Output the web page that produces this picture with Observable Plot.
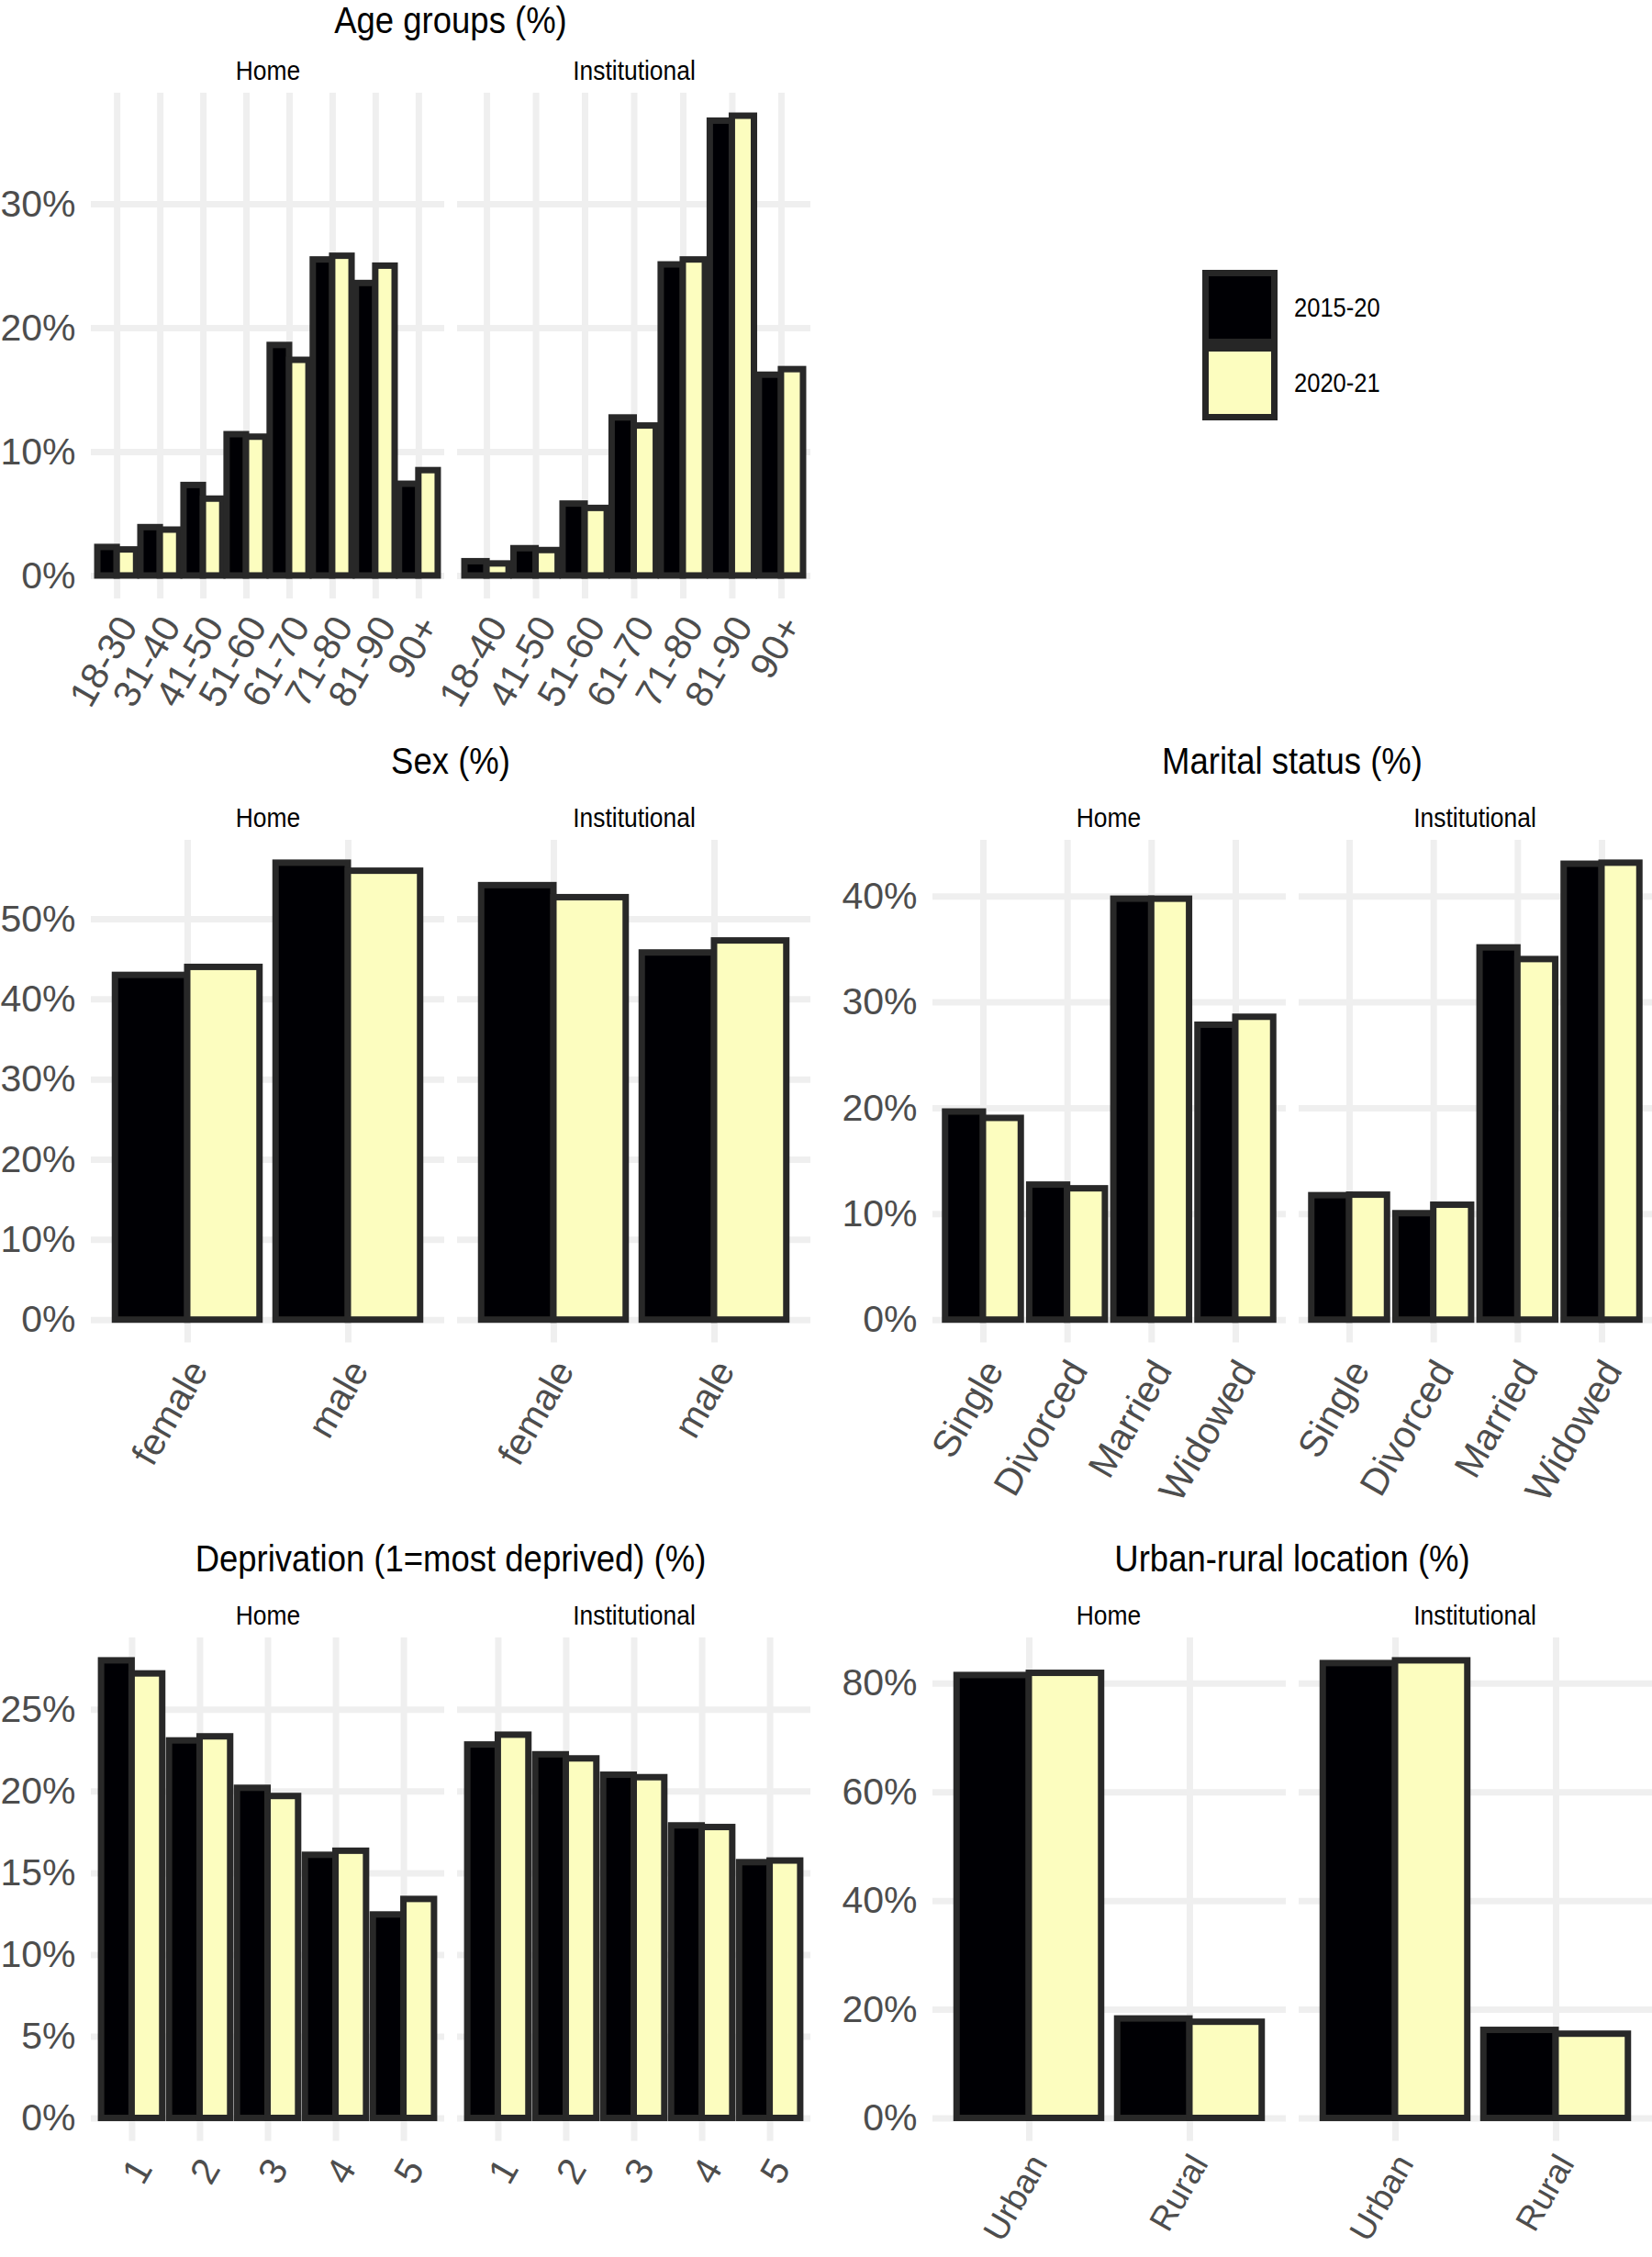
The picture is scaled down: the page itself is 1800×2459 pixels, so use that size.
<!DOCTYPE html>
<html><head><meta charset="utf-8">
<script src="https://cdn.jsdelivr.net/npm/d3@7"></script>
<script src="https://cdn.jsdelivr.net/npm/@observablehq/plot@0.6"></script>
<style>
html,body{margin:0;padding:0;background:#fff;overflow:hidden;}
#root{position:relative;width:1800px;height:2459px;overflow:hidden;background:#fff;font-family:"Liberation Sans",Arial,sans-serif;}
.abs{position:absolute;white-space:nowrap;line-height:1;}
.plotbox{position:absolute;}
</style></head><body><div id="root"></div>
<script>
// ---------- data ----------
const periods = ["2015-20", "2020-21"];
const periodColors = ["#000004", "#FCFDBF"];
const facets = ["Home", "Institutional"];

const ageCatsHome = ["18-30","31-40","41-50","51-60","61-70","71-80","81-90","90+"];
const ageHome1520 = [2.3, 3.9, 7.3, 11.4, 18.6, 25.5, 23.6, 7.4];
const ageHome2021 = [2.1, 3.7, 6.2, 11.2, 17.4, 25.8, 25.0, 8.5];
const ageCatsInst = ["18-40","41-50","51-60","61-70","71-80","81-90","90+"];
const ageInst1520 = [1.15, 2.2, 5.8, 12.75, 25.1, 36.7, 16.2];
const ageInst2021 = [0.97, 2.05, 5.45, 12.1, 25.5, 37.1, 16.65];
const ageTicks = [0, 10, 20, 30];

const sexCats = ["female", "male"];
const sexHome1520 = [43.0, 57.0];
const sexHome2021 = [44.0, 56.0];
const sexInst1520 = [54.2, 45.8];
const sexInst2021 = [52.7, 47.3];
const sexTicks = [0, 10, 20, 30, 40, 50];

const maritalCats = ["Single", "Divorced", "Married", "Widowed"];
const maritalHome1520 = [19.65, 12.75, 39.75, 27.85];
const maritalHome2021 = [19.05, 12.4, 39.75, 28.6];
const maritalInst1520 = [11.75, 10.05, 35.15, 43.05];
const maritalInst2021 = [11.8, 10.85, 34.05, 43.15];
const maritalTicks = [0, 10, 20, 30, 40];

const deprivCats = ["1", "2", "3", "4", "5"];
const deprivHome1520 = [28.0, 23.1, 20.2, 16.1, 12.45];
const deprivHome2021 = [27.2, 23.35, 19.7, 16.35, 13.4];
const deprivInst1520 = [22.85, 22.25, 21.0, 17.9, 15.65];
const deprivInst2021 = [23.45, 22.0, 20.85, 17.8, 15.75];
const deprivTicks = [0, 5, 10, 15, 20, 25];

const urbanCats = ["Urban", "Rural"];
const urbanHome1520 = [81.5, 18.3];
const urbanHome2021 = [81.9, 17.7];
const urbanInst1520 = [83.7, 16.2];
const urbanInst2021 = [84.2, 15.5];
const urbanTicks = [0, 20, 40, 60, 80];

const titles = ["Age groups (%)", "Sex (%)", "Marital status (%)", "Deprivation (1=most deprived) (%)", "Urban-rural location (%)"];

// ---------- layout ----------
const root = document.getElementById("root");
const COLS = [
  {home: [99, 484], inst: [498, 883]},
  {home: [1015.7, 1400.7], inst: [1414.7, 1799.7]}
];
const ROWS = [[101, 652], [915, 1462.6], [1784, 2332.4]];
const GRID = "#EFEFEF", EDGE = "#282828", AXIS = "#4d4d4d";
const FONT = '"Liberation Sans", Arial, sans-serif';

function addText(txt, cx, cy, size, scale, anchor, color) {
  const d = document.createElement("div");
  d.className = "abs";
  d.textContent = txt;
  d.style.fontSize = size + "px";
  d.style.color = color || "#000";
  d.style.left = cx + "px";
  d.style.top = cy + "px";
  if (anchor === "middle") {
    d.style.transform = `translate(-50%,-50%) scaleX(${scale})`;
    d.style.transformOrigin = "50% 50%";
  } else {
    d.style.transform = `translate(0,-50%) scaleX(${scale})`;
    d.style.transformOrigin = "0 50%";
  }
  root.appendChild(d);
}

function panel(cats, v1, v2, yMax, ticks, xr, yr, showY, xFont, xPad) {
  const n = cats.length;
  const rows = [];
  cats.forEach((c, i) => {
    rows.push({cat: c, idx: i + 1, p: 0, period: periods[0], value: v1[i]});
    rows.push({cat: c, idx: i + 1, p: 1, period: periods[1], value: v2[i]});
  });
  const mL = 130, mR = 20, mT = 12, mB = 260;
  const w = xr[1] - xr[0], h = yr[1] - yr[0];
  const idxs = d3.range(1, n + 1);
  const marks = [
    Plot.gridX(idxs, {stroke: GRID, strokeOpacity: 1, strokeWidth: 7}),
    Plot.gridY(ticks, {stroke: GRID, strokeOpacity: 1, strokeWidth: 7}),
    Plot.rect(rows, {
      x1: d => d.idx - 0.45 + d.p * 0.45,
      x2: d => d.idx + d.p * 0.45,
      y1: 0, y2: "value",
      fill: "period", stroke: EDGE, strokeWidth: 7
    }),
    Plot.axisX(idxs, {
      tickFormat: i => cats[i - 1], tickSize: 0, tickPadding: xPad || 15, dx: -2,
      tickRotate: -60, textAnchor: "end", lineAnchor: "top",
      fontSize: xFont || 41, color: AXIS, label: null
    })
  ];
  if (showY) marks.push(Plot.axisY(ticks, {
    tickFormat: d => d + "%", tickSize: 0, tickPadding: 17,
    fontSize: 41, color: AXIS, label: null
  }));
  const chart = Plot.plot({
    width: w + mL + mR, height: h + mT + mB,
    marginLeft: mL, marginRight: mR, marginTop: mT, marginBottom: mB,
    style: {background: "transparent", overflow: "visible", maxWidth: "none", fontFamily: FONT},
    x: {type: "linear", domain: [0.4, n + 0.6], axis: null},
    y: {domain: [-0.05 * yMax, 1.05 * yMax], axis: null},
    color: {domain: periods, range: periodColors},
    marks
  });
  const box = document.createElement("div");
  box.className = "plotbox";
  box.style.left = (xr[0] - mL) + "px";
  box.style.top = (yr[0] - mT) + "px";
  box.appendChild(chart);
  root.appendChild(box);
}

function block(title, col, row, catsH, h1, h2, catsI, i1, i2, ticks, opts = {}) {
  const c = COLS[col], r = ROWS[row];
  const yMax = d3.max([...h1, ...h2, ...i1, ...i2]);
  panel(catsH, h1, h2, yMax, ticks, c.home, r, true, opts.xFont, opts.xPad);
  panel(catsI, i1, i2, yMax, ticks, c.inst, r, false, opts.xFont, opts.xPad);
  addText(title, (c.home[0] + c.inst[1]) / 2, Math.max(r[0] - 86, opts.titleMin || 0), 41, 0.89, "middle");
  addText(facets[0], (c.home[0] + c.home[1]) / 2, r[0] - 24, 30, 0.88, "middle");
  addText(facets[1], (c.inst[0] + c.inst[1]) / 2, r[0] - 24, 30, 0.88, "middle");
}

block(titles[0], 0, 0, ageCatsHome, ageHome1520, ageHome2021, ageCatsInst, ageInst1520, ageInst2021, ageTicks, {titleMin: 22});
block(titles[1], 0, 1, sexCats, sexHome1520, sexHome2021, sexCats, sexInst1520, sexInst2021, sexTicks);
block(titles[2], 1, 1, maritalCats, maritalHome1520, maritalHome2021, maritalCats, maritalInst1520, maritalInst2021, maritalTicks);
block(titles[3], 0, 2, deprivCats, deprivHome1520, deprivHome2021, deprivCats, deprivInst1520, deprivInst2021, deprivTicks);
block(titles[4], 1, 2, urbanCats, urbanHome1520, urbanHome2021, urbanCats, urbanInst1520, urbanInst2021, urbanTicks, {xFont: 37, xPad: 11});

// ---------- legend ----------
periods.forEach((p, i) => {
  const k = document.createElement("div");
  k.style.position = "absolute";
  k.style.left = "1310px";
  k.style.top = (294 + i * 82) + "px";
  k.style.width = "82px";
  k.style.height = "82px";
  k.style.boxSizing = "border-box";
  k.style.border = "7px solid #262626";
  k.style.background = periodColors[i];
  root.appendChild(k);
  addText(p, 1410, 335 + i * 82, 29, 0.88, "start");
});
</script></body></html>
